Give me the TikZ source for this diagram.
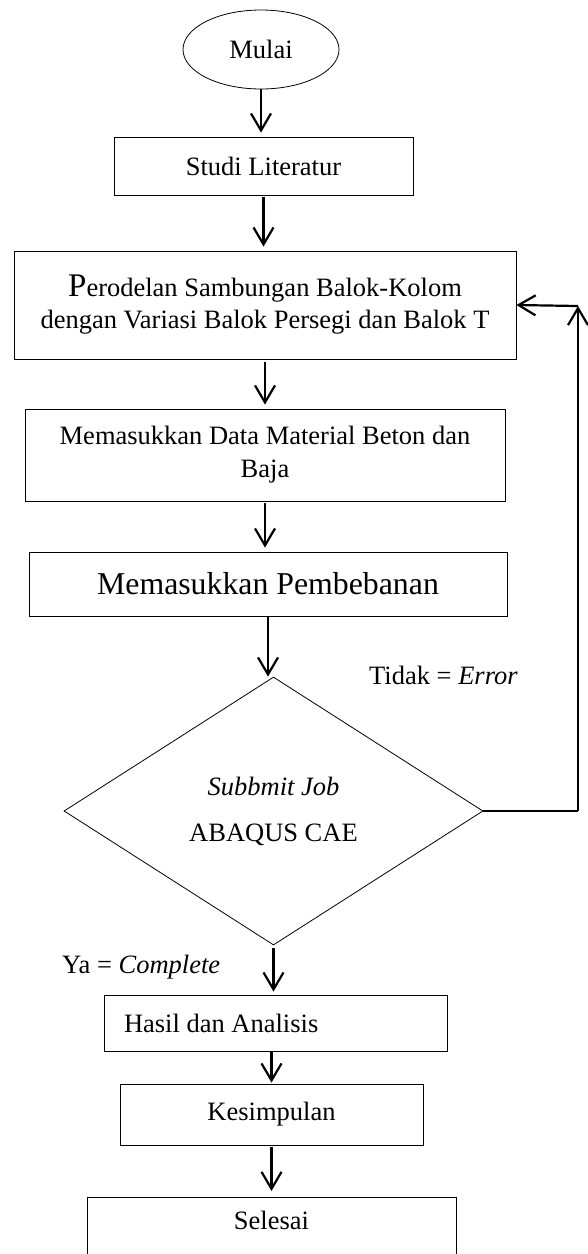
\documentclass[tikz,border=0pt]{standalone}
\usepackage{fontspec}
\setmainfont{Liberation Serif}
\usetikzlibrary{shapes.geometric,arrows.meta}
\begin{document}
\begin{tikzpicture}[x=1pt,y=-1pt,
  base/.style={font=\fontsize{26.5}{33}\selectfont},
  box/.style={base, draw, line width=0.8pt, inner sep=0pt, align=center},
  arr/.style={line width=2.2pt, -{Straight Barb[length=17pt,width=20pt]}},
  thinline/.style={line width=1.1pt}]
\useasboundingbox (0,0) rectangle (587,1254);

\node[box, ellipse, minimum width=156pt, minimum height=79pt] (mulai) at (261,49.5) {Mulai};
\node[box, minimum width=299pt, minimum height=58pt] (studi) at (263.5,166) {Studi Literatur};
\node[box, minimum width=502pt, minimum height=108pt, font=\fontsize{26.5}{32}\selectfont] (perod) at (265,305)
  {{\fontsize{33}{32}\selectfont P}erodelan Sambungan Balok-Kolom\\dengan Variasi Balok Persegi dan Balok T};
\node[box, minimum width=480pt, minimum height=92pt] (data) at (265,455) {Memasukkan Data Material Beton dan\\Baja};
\node[box, minimum width=478pt, minimum height=64pt, font=\fontsize{31.8}{38}\selectfont] (beban) at (268,584) {Memasukkan Pembebanan};
\node[box, diamond, aspect=1.56, minimum width=419pt, minimum height=268pt] (dia) at (273.5,811)
  {\textit{Subbmit Job}\\[13pt]ABAQUS CAE};
\node[box, minimum width=343pt, minimum height=56pt, text width=303pt, inner xsep=20pt, align=flush left] (hasil) at (275.5,1023) {Hasil dan Analisis};
\node[box, minimum width=303pt, minimum height=61pt] (kesim) at (271.5,1114.5) {Kesimpulan};
\node[box, minimum width=369pt, minimum height=90pt, text height=18pt, text depth=43pt, anchor=north] (selesai) at (271.5,1197) {Selesai};

\node[base, anchor=west, inner sep=0pt] (tidak) at (369,675) {Tidak = \textit{Error}};
\node[base, anchor=west, inner sep=0pt] (ya) at (62,967) {Ya = \textit{Complete}};

\draw[arr, shorten >=4pt] (mulai.south) -- (mulai.south |- studi.north);
\draw[arr, shorten >=4pt, shorten <=2pt] (studi.south) -- (studi.south |- perod.north);
\draw[arr, shorten >=4pt, shorten <=3pt] (perod.south) -- (perod.south |- data.north);
\draw[arr, shorten >=4pt, shorten <=2pt] (data.south) -- (data.south |- beban.north);
\draw[arr] (beban.south) -- (beban.south |- dia.north);
\draw[arr, shorten >=3pt, shorten <=3pt] (dia.south) -- (dia.south |- hasil.north);
\draw[arr, shorten >=1pt] (hasil.south -| kesim.north) -- (kesim.north);
\draw[arr, shorten >=6pt, shorten <=2pt] (kesim.south) -- (kesim.south |- selesai.north);

\coordinate (fbb) at (578,811);
\coordinate (fbt) at (578,306);
\draw[thinline] (dia.east) -- (fbb);
\draw[arr] (fbb) -- (fbt);
\draw[arr] (fbt) -- (perod.east);
\end{tikzpicture}
\end{document}
